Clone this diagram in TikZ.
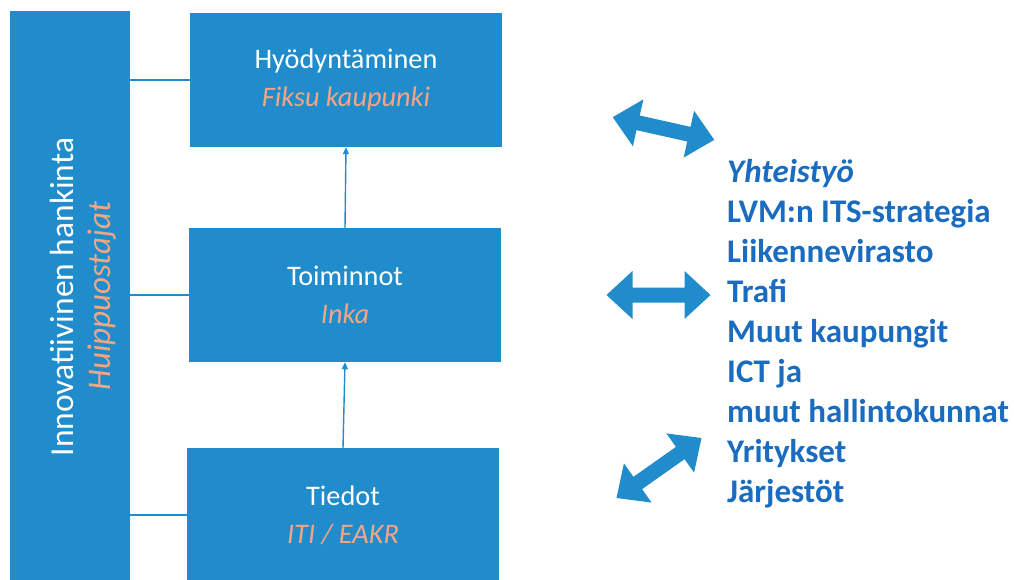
\documentclass[tikz,border=0pt]{standalone}
\usepackage{fontspec}
\setmainfont{Carlito}
\usetikzlibrary{arrows.meta}
\definecolor{boxblue}{RGB}{32,140,204}
\definecolor{salmon}{RGB}{244,166,132}
\definecolor{textblue}{RGB}{26,108,192}
\tikzset{
  block/.style={fill=boxblue, inner sep=0pt, minimum width=312pt, minimum height=134pt,
    align=center, text=white, font=\fontsize{28.3}{38}\selectfont},
  link/.style={draw=boxblue, line width=1.2pt},
  flow/.style={draw=boxblue, line width=1.4pt, -{Triangle[length=7pt,width=6pt]}},
  partner/.style={anchor=base west, inner sep=0pt, text=textblue,
    font=\fontsize{33}{38}\selectfont\bfseries},
  pics/dblarr/.style={code={
    \fill[boxblue] (-52,0) -- (-26,-24) -- (-26,-7.5) -- (26,-7.5) -- (26,-24) -- (52,0)
      -- (26,24) -- (26,7.5) -- (-26,7.5) -- (-26,24) -- cycle;
  }}
}
\begin{document}
\begin{tikzpicture}[x=1pt,y=-1pt]
\useasboundingbox (0,0) rectangle (1014,579);
\clip (0,0) rectangle (1014,579);
\fill[white] (0,0) rectangle (1014,579);

% procurement bar on the left
\node[fill=boxblue, minimum width=120pt, minimum height=580pt, inner sep=0pt] (bar) at (70,301) {};
\node[rotate=90, text=white, font=\fontsize{33.5}{38}\selectfont, inner sep=0pt] (barA) at (62,297) {Innovatiivinen hankinta};
\node[rotate=90, text=salmon, font=\fontsize{33}{38}\selectfont\itshape, inner sep=0pt] (barB) at (102,296) {Huippuostajat};

% three layers
\node[block] (top) at (346,80) {Hyödyntäminen\\\textcolor{salmon}{\itshape Fiksu kaupunki}};
\node[block] (mid) at (345,295) {Toiminnot\\\textcolor{salmon}{\itshape Inka}};
\node[block] (bot) at (343,515) {Tiedot\\\textcolor{salmon}{\itshape ITI / EAKR}};

% links from the bar
\draw[link] (top.west) -- (top.west -| bar.east);
\draw[link] (mid.west) -- (mid.west -| bar.east);
\draw[link] (bot.west) -- (bot.west -| bar.east);

% upward flow
\draw[flow] (bot.north) -- (mid.south);
\draw[flow] (mid.north) -- (top.south);

% cooperation arrows
\pic (coopA) [rotate=-12.6] at (663.5,128.5) {dblarr};
\pic (coopB) at (658.5,295) {dblarr};
\pic (coopC) [rotate=35.2] at (659,468) {dblarr};

% partners
\node[partner, font=\fontsize{33}{38}\selectfont\bfseries\itshape] (p0) at (727,182) {Yhteistyö};
\node[partner] (p1) at (727,222) {LVM:n ITS-strategia};
\node[partner] (p2) at (727,262) {Liikennevirasto};
\node[partner] (p3) at (727,302) {Trafi};
\node[partner] (p4) at (727,342) {Muut kaupungit};
\node[partner] (p5) at (727,382) {ICT ja};
\node[partner] (p6) at (727,422) {muut hallintokunnat};
\node[partner] (p7) at (727,462) {Yritykset};
\node[partner] (p8) at (727,502) {Järjestöt};
\end{tikzpicture}
\end{document}
